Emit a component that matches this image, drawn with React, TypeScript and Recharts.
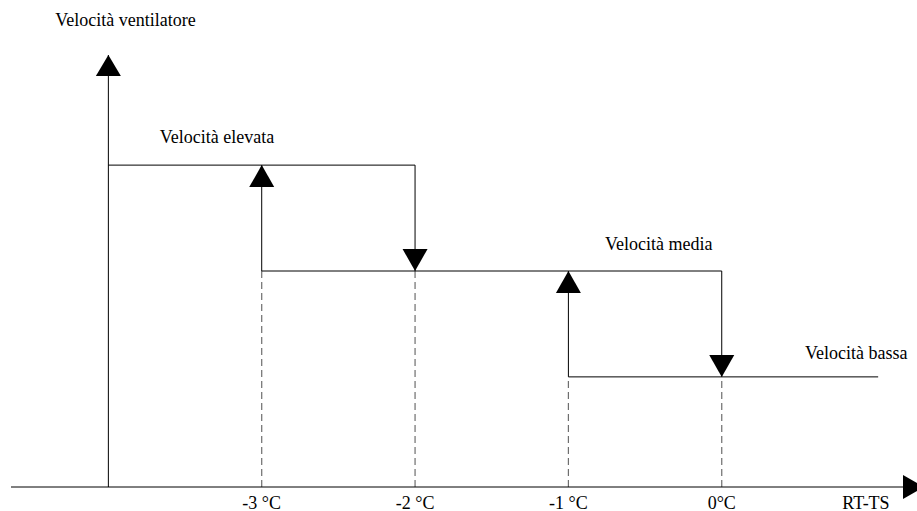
import React from 'react';
import { LineChart, Line, XAxis, YAxis, ReferenceLine, ReferenceDot, Label } from 'recharts';

// ---- data ----
const yAxisTitle = 'Velocità ventilatore';
const xAxisTitle = 'RT-TS';
const thresholdTicks = [-3, -2, -1, 0];
const thresholdLabels = ['-3 °C', '-2 °C', '-1 °C', '0°C'];
const levelNames = ['Velocità bassa', 'Velocità media', 'Velocità elevata'];
const levelValues = [1, 2, 3];

// hysteresis step paths
const pathHigh = [
  { x: -4, y: 3 },
  { x: -2, y: 3 },
  { x: -2, y: 2 },
];
const pathMedium = [
  { x: -3, y: 3 },
  { x: -3, y: 2 },
  { x: 0, y: 2 },
  { x: 0, y: 1 },
];
const pathLow = [
  { x: -1, y: 2 },
  { x: -1, y: 1 },
  { x: 1.02, y: 1 },
];
// dashed guides: threshold x up to the level reached
const guideX = [-3, -2, -1, 0];
const guideTop = [2, 2, 1, 1];
// switching arrows
const arrowX = [-3, -2, -1, 0];
const arrowY = [3, 2, 2, 1];
const arrowDir = ['up', 'down', 'up', 'down'];
// label anchors (data units)
const labelAnchorX = [0.543, -0.761, -3.665];

const X_DOMAIN: [number, number] = [-4.635, 1.182];
const Y_DOMAIN: [number, number] = [-0.04, 4.04];
const Y_AXIS_X = -4;

const FONT = "'Liberation Serif', 'Times New Roman', Times, serif";
const FS = 18;
const TXT = { fontFamily: FONT, fontSize: FS } as React.CSSProperties;
const labelDy = [-18, -21, -22];

const Triangle = ({ cx, cy, dir }: any) => {
  const w = 12.5;
  const h = 22;
  let pts = '';
  if (dir === 'up') pts = `${cx},${cy} ${cx - w},${cy + h} ${cx + w},${cy + h}`;
  else if (dir === 'down') pts = `${cx},${cy} ${cx - w},${cy - h} ${cx + w},${cy - h}`;
  else pts = `${cx},${cy - 12} ${cx},${cy + 12} ${cx + 21},${cy}`;
  return <polygon points={pts} fill="#000" stroke="none" />;
};

export default function App() {
  return (
    <div style={{ position: 'absolute', left: 0, top: 0, width: 917, height: 511, background: '#fff', fontFamily: FONT }}>
      <LineChart width={917} height={511} margin={{ top: 55, right: 14, bottom: 0, left: 11 }} style={{ fontFamily: FONT }}>
        <XAxis
          type="number"
          dataKey="x"
          domain={X_DOMAIN}
          ticks={thresholdTicks}
          allowDataOverflow
          height={24}
          tickLine={false}
          axisLine={{ stroke: '#000', strokeWidth: 1 }}
          tick={(p: any) => {
            const i = thresholdTicks.indexOf(p.payload.value);
            return (
              <text x={p.x} y={509} textAnchor="middle" style={TXT} fill="#000">
                {thresholdLabels[i]}
              </text>
            );
          }}
        >
          <Label
            content={(p: any) => {
              const vb = p.viewBox;
              return (
                <text x={vb.x + vb.width - 37} y={509} textAnchor="middle" style={TXT} fill="#000">
                  {xAxisTitle}
                </text>
              );
            }}
          />
        </XAxis>
        <YAxis hide type="number" domain={Y_DOMAIN} allowDataOverflow />

        {/* y axis line */}
        <ReferenceLine
          segment={[{ x: Y_AXIS_X, y: Y_DOMAIN[0] }, { x: Y_AXIS_X, y: Y_DOMAIN[1] }]}
          stroke="#000"
          strokeWidth={1}
          ifOverflow="visible"
        />

        {/* dashed guides */}
        {guideX.map((gx, i) => (
          <ReferenceLine
            key={'g' + i}
            segment={[{ x: gx, y: Y_DOMAIN[0] }, { x: gx, y: guideTop[i] }]}
            stroke="#6e6e6e"
            strokeWidth={1.2}
            strokeDasharray="7 4"
            ifOverflow="visible"
          />
        ))}

        <Line data={pathHigh} dataKey="y" type="linear" stroke="#000" strokeWidth={1} dot={false} activeDot={false} isAnimationActive={false} />
        <Line data={pathMedium} dataKey="y" type="linear" stroke="#000" strokeWidth={1} dot={false} activeDot={false} isAnimationActive={false} />
        <Line data={pathLow} dataKey="y" type="linear" stroke="#000" strokeWidth={1} dot={false} activeDot={false} isAnimationActive={false} />

        {/* switching arrows */}
        {arrowX.map((ax, i) => (
          <ReferenceDot
            key={'a' + i}
            x={ax}
            y={arrowY[i]}
            ifOverflow="visible"
            shape={(p: any) => <Triangle cx={p.cx} cy={p.cy} dir={arrowDir[i]} />}
          />
        ))}

        {/* axis arrows */}
        <ReferenceDot
          x={Y_AXIS_X}
          y={Y_DOMAIN[1]}
          ifOverflow="visible"
          shape={(p: any) => (
            <g>
              <polygon points={`${p.cx},${p.cy} ${p.cx - 12.5},${p.cy + 21} ${p.cx + 12.5},${p.cy + 21}`} fill="#000" />
              <text x={p.cx - 53} y={p.cy - 29} style={TXT} fill="#000">
                {yAxisTitle}
              </text>
            </g>
          )}
        />
        <ReferenceDot
          x={X_DOMAIN[1]}
          y={Y_DOMAIN[0]}
          ifOverflow="visible"
          shape={(p: any) => <Triangle cx={p.cx} cy={p.cy} dir="right" />}
        />

        {/* level labels */}
        {levelValues.map((lv, i) => (
          <ReferenceDot
            key={'l' + i}
            x={labelAnchorX[i]}
            y={lv}
            ifOverflow="visible"
            shape={(p: any) => (
              <text x={p.cx} y={p.cy + labelDy[i]} style={TXT} fill="#000">
                {levelNames[i]}
              </text>
            )}
          />
        ))}
      </LineChart>
    </div>
  );
}
